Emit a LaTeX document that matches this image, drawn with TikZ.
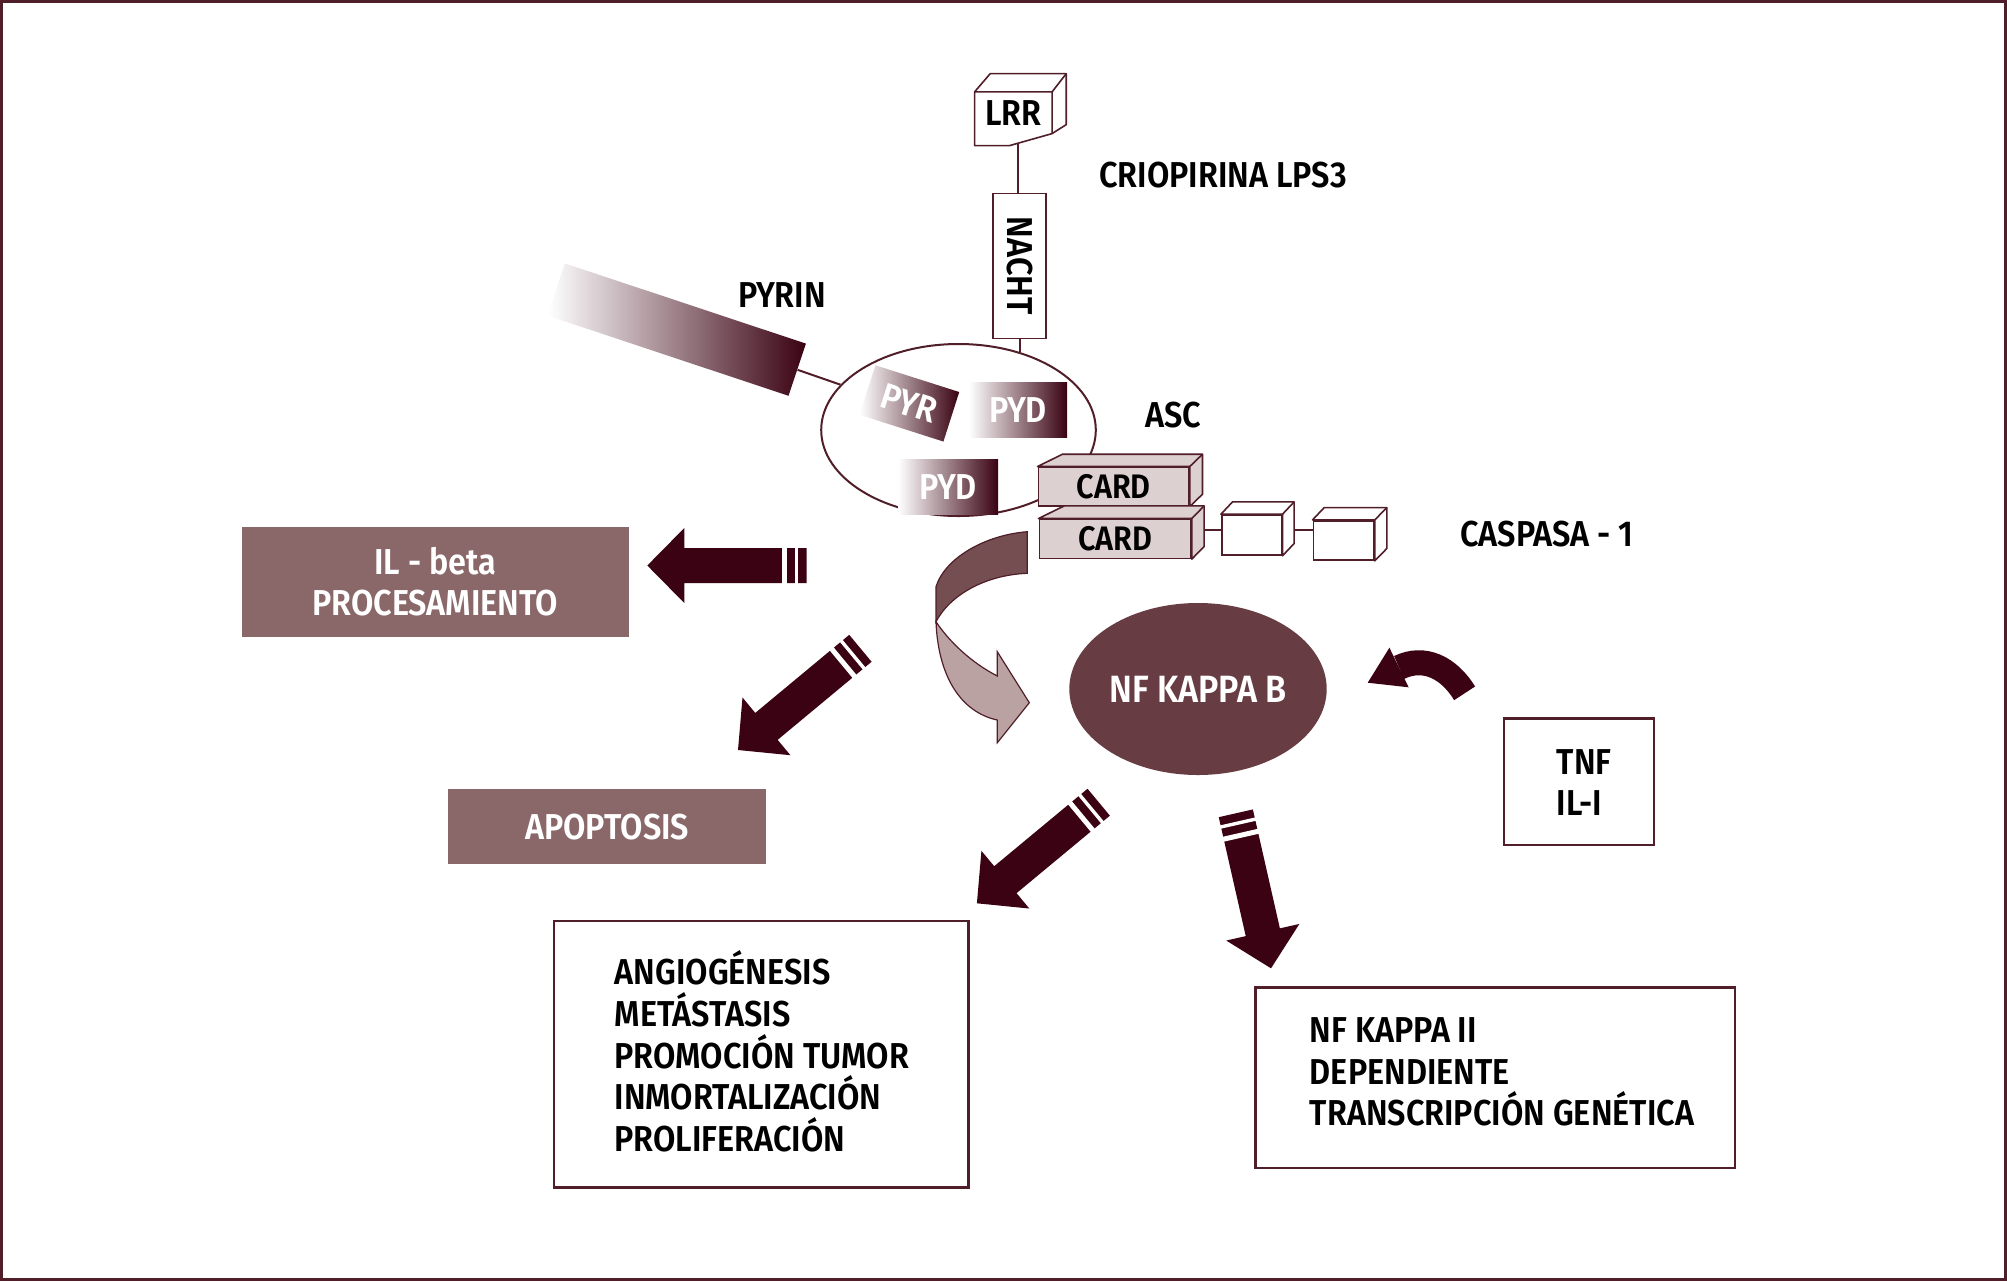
\documentclass[tikz,border=0pt]{standalone}
\usepackage{fontspec}
\setmainfont{Fira Sans}[FakeStretch=0.9, BoldFont={Fira Sans SemiBold}]
\usepackage{tikz}
\usetikzlibrary{arrows.meta,calc,positioning,shapes.geometric}
\definecolor{arrowcol}{RGB}{58,2,18}
\definecolor{edgecol}{RGB}{80,30,40}
\definecolor{mauve}{RGB}{138,104,105}
\definecolor{nfcol}{RGB}{103,61,67}
\definecolor{cardcol}{RGB}{221,208,208}
\definecolor{ribdark}{RGB}{117,78,82}
\definecolor{riblight}{RGB}{186,162,163}

% top and right faces behind a front node: node, fill, dx left, dx right, dy
\newcommand\boxfaces[5]{%
\draw[edgecol,fill=#2,line width=0.8pt,line join=round] (#1.north west) -- ++(#3,#5) -- ($(#1.north east)+(#4,#5)$) -- ($(#1.south east)+(#4,#5)$) -- (#1.south east) -- (#1.north east) -- cycle;
\draw[edgecol,line width=0.8pt] (#1.north east) -- ++(#4,#5);}

% block arrow from tail #1 to tip #2, two stripes at the tail
\newcommand\blockarrow[2]{%
\coordinate (hb) at ($(#2)!18.5pt!(#1)$);
\fill[arrowcol] ($(#1)!8.75pt!90:(#2)$) -- ($(hb)!8.75pt!-90:(#1)$) -- ($(hb)!18.75pt!-90:(#1)$) -- (#2) -- ($(hb)!18.75pt!90:(#1)$) -- ($(hb)!8.75pt!90:(#1)$) -- ($(#1)!8.75pt!-90:(#2)$) -- cycle;
\coordinate (s1) at ($(#1)!5pt!(#2)$);
\coordinate (s2) at ($(#1)!11.25pt!(#2)$);
\draw[white,line width=1.7pt] ($(s1)!9.5pt!90:(#2)$) -- ($(s1)!9.5pt!-90:(#2)$);
\draw[white,line width=2.5pt] ($(s2)!9.5pt!90:(#2)$) -- ($(s2)!9.5pt!-90:(#2)$);}

\begin{document}
\begin{tikzpicture}[x=0.5pt,y=-0.5pt,font=\fontsize{18}{20.8}\selectfont\bfseries,
lbl/.style={inner sep=0pt},
filledbox/.style={fill=mauve,text=white,inner sep=0pt,align=center},
framebox/.style={draw=edgecol,line width=1.2pt,inner sep=0pt},
gradbox/.style={left color=white,right color=arrowcol,text=white,inner sep=0pt},
cardbox/.style={draw=edgecol,fill=cardcol,line width=0.8pt,inner sep=0pt,font=\fontsize{17}{20}\selectfont\bfseries},
cubebox/.style={draw=edgecol,fill=white,line width=0.8pt,inner sep=0pt},
link/.style={draw=edgecol,line width=1pt}]
\useasboundingbox (0,0) rectangle (2007,1281);
\draw[edgecol,line width=1.2pt] (1.5,1.5) rectangle (2005.5,1279.5);

% inflammasome
\node[ellipse,draw=edgecol,line width=1pt,minimum width=137.3pt,minimum height=86pt,inner sep=0pt] (asc) at (958.5,430) {};
\node[lbl,minimum width=38.35pt,minimum height=21pt] (lrr) at (1013.3,113.3) {LRR};
\draw[edgecol,line width=0.8pt,line join=round] (lrr.north west) -- ++(0,53.7) -- ++(35,0) -- ($(lrr.north east)+(0,41.7)$) -- (lrr.north east) -- cycle;
\draw[edgecol,line width=0.8pt,line join=round] (lrr.north west) -- ++(15.7,-18.3) -- ++(76,0) coordinate (lrrback) -- ++(0,51) -- ($(lrr.north east)+(0,41.7)$);
\draw[edgecol,line width=0.8pt] (lrr.north east) -- (lrrback);
\coordinate (lrrfoot) at ($(lrr.south)+(4.7,9.4)$);
\node[cubebox,rotate=-90,minimum width=72.5pt,minimum height=26.5pt] (nacht) at (1019.5,265.8) {NACHT};
\draw[link] (lrrfoot) -- (lrrfoot |- nacht.west);
\draw[link] (nacht.east) -- (nacht.east |- asc.52);
\node[gradbox,rotate=-18.4,minimum width=127pt,minimum height=27.5pt] (pyrin) at (676.7,329.6) {};
\draw[link] (pyrin.east) -- (asc.159);
\node[gradbox,rotate=-17.7,minimum width=44pt,minimum height=26pt] (pyr) at (909.4,403.4) {PYR};
\node[gradbox,minimum width=49pt,minimum height=27.5pt] (pyd1) at (1018,409.8) {PYD};
\node[gradbox,minimum width=50pt,minimum height=27.5pt] (pyd2) at (948,486.7) {PYD};
\node[cardbox,minimum width=75.35pt,minimum height=19.2pt] (card1) at (1113.65,486.5) {CARD};
\boxfaces{card1}{cardcol}{25}{12.7}{-12.3}
\node[cardbox,minimum width=75.85pt,minimum height=19.5pt] (card2) at (1115.15,538.8) {CARD};
\boxfaces{card2}{cardcol}{25.7}{12.3}{-12.6}
\node[cubebox,minimum width=30pt,minimum height=20pt] (casp1) at (1251.7,535) {};
\boxfaces{casp1}{white}{11.6}{11.6}{-12.3}
\node[cubebox,minimum width=30.35pt,minimum height=19.65pt] (casp2) at (1343.65,540.35) {};
\boxfaces{casp2}{white}{11.7}{12}{-12.3}
\draw[link] ($(card2.east)+(12.3,-8.8)$) coordinate (k1) -- (k1 -| casp1.west);
\draw[link] ($(casp1.east)+(11.6,-5)$) coordinate (k2) -- (k2 -| casp2.west);

% labels
\node[lbl,anchor=west] (crio) at (1099,175) {CRIOPIRINA LPS3};
\node[lbl] (pyrinlbl) at (782,295) {PYRIN};
\node[lbl] (asclbl) at (1173.5,415) {ASC};
\node[lbl,anchor=west] (casplbl) at (1460,534) {CASPASA - 1};

% outcomes
\node[filledbox,minimum width=193.25pt,minimum height=55pt] (ilbeta) at (435.25,581.7) {IL - beta\\PROCESAMIENTO};
\node[filledbox,minimum width=159.2pt,minimum height=37.35pt] (apop) at (607.2,826.65) {APOPTOSIS};
\node[ellipse,fill=nfcol,text=white,minimum width=128.7pt,minimum height=86pt,inner sep=0pt,font=\fontsize{19}{22}\selectfont\bfseries] (nfkb) at (1198,689) {NF KAPPA B};
\node[framebox,minimum width=74.9pt,minimum height=63.35pt] (tnf) at (1578.9,781.65) {};
\node[lbl,align=left,anchor=west] (tnftxt) at (1556.4,782.5) {TNF\\IL-I};
\node[framebox,minimum width=207.25pt,minimum height=133.3pt] (effects) at (761.25,1054) {};
\node[lbl,align=left,anchor=west] (effectstxt) at (614.3,1051.3) {ANGIOGÉNESIS\\METÁSTASIS\\PROMOCIÓN TUMOR\\INMORTALIZACIÓN\\PROLIFERACIÓN};
\node[framebox,minimum width=239.75pt,minimum height=90.2pt] (genes) at (1495.25,1077.5) {};
\node[lbl,align=left,anchor=west] (genestxt) at (1309.5,1072) {NF KAPPA II\\DEPENDIENTE\\TRANSCRIPCIÓN GENÉTICA};

% arrows
\coordinate (ilT) at (806.7,565.5);
\coordinate (ilP) at (647.3,565.5);
\coordinate (apT) at (860.4,648.3);
\coordinate (apP) at (738,750);
\coordinate (efT) at (1098.7,802.2);
\coordinate (efP) at (976.9,903.3);
\coordinate (geT) at (1235.8,813.3);
\coordinate (geP) at (1271,968.3);
\blockarrow{ilT}{ilP}
\blockarrow{apT}{apP}
\blockarrow{efT}{efP}
\blockarrow{geT}{geP}

\coordinate (tnfT) at (1464.6,693.3);
\coordinate (tnfH) at (1399,667.5);
\coordinate (tnfP) at (1367.7,682.7);
\draw[arrowcol,line width=12.5pt] (tnfT) .. controls (1449,667.8) and (1424.4,655.2) .. (tnfH);
\fill[arrowcol] ($(tnfH)!11pt!90:(tnfP)$) -- (tnfP) -- ($(tnfH)!11pt!-90:(tnfP)$) -- cycle;

% twisted arrow from CARD to NF KAPPA B
\filldraw[fill=ribdark,draw=edgecol,line width=0.6pt] (1027.3,531.7) .. controls (985,535) and (945,558) .. (936,586.7) -- (936,621.7) .. controls (950,595) and (985,575) .. (1027.3,573.3) -- cycle;
\filldraw[fill=riblight,draw=edgecol,line width=0.6pt] (936,621.7) .. controls (938,675) and (960,712) .. (997.3,720) -- (997.3,742.7) -- (1029.3,702.7) -- (997.3,651.7) -- (997.3,676) .. controls (970,662) and (948,640) .. (936,621.7) -- cycle;
\end{tikzpicture}
\end{document}
